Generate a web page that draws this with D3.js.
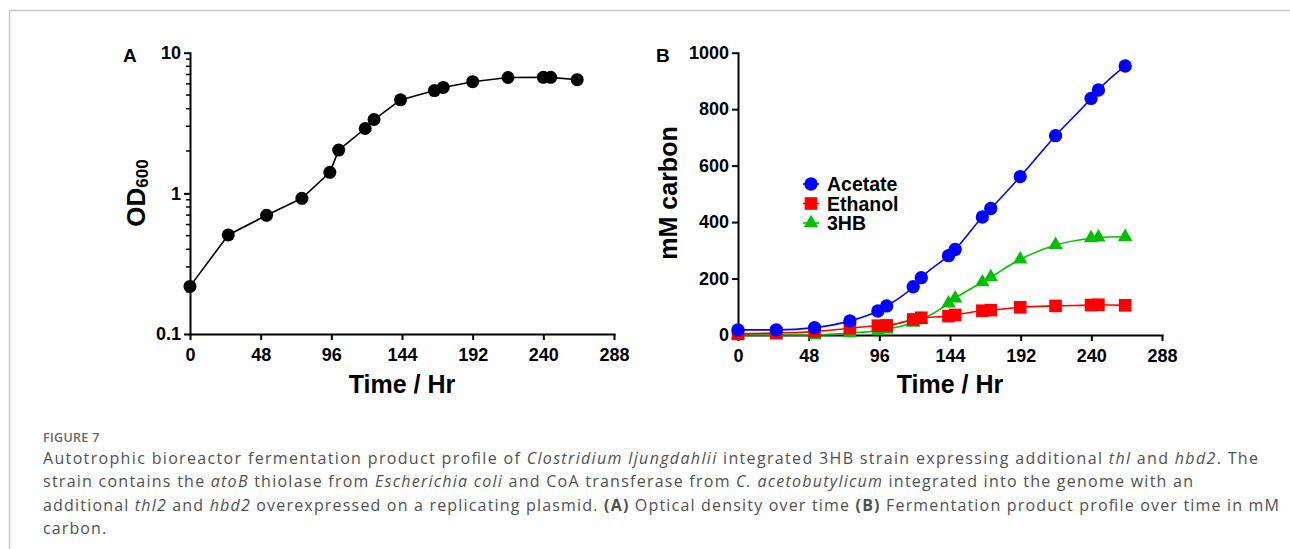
<!DOCTYPE html>
<html><head><meta charset="utf-8">
<script src="https://cdn.jsdelivr.net/npm/d3@7"></script>
<style>
html,body{margin:0;padding:0;background:#fff;}
svg{display:block;}
.ax text{font-family:"Liberation Sans",Arial,sans-serif;font-weight:bold;font-size:18px;fill:#000;}
.ax path,.ax line{stroke:#000;stroke-width:2px;}
.ttl{font-family:"Liberation Sans",Arial,sans-serif;font-weight:bold;fill:#000;}
.cap{font-family:"Open Sans","Noto Sans",sans-serif;font-size:16px;fill:#505050;}
</style></head>
<body><svg id="c" width="1290" height="549"></svg>
<script>
// ---- data ----
const xTicks = [0, 48, 96, 144, 192, 240, 288];
const yTicksA = [0.1, 1, 10];
const yTickLabelsA = ["0.1", "1", "10"];
const yTicksB = [0, 200, 400, 600, 800, 1000];

const timesA = [0, 26, 52, 76, 95, 101, 119, 125, 143, 166, 172, 192, 216, 240, 245, 263];
const od600  = [0.218, 0.506, 0.698, 0.922, 1.41, 2.03, 2.89, 3.35, 4.62, 5.38, 5.66, 6.22, 6.66, 6.68, 6.68, 6.43];

const timesB  = [0, 26, 52, 76, 95, 101, 119, 124.5, 143, 147.5, 166, 171.7, 191.7, 215.7, 239.8, 244.8, 263];
const acetate = [18, 18, 26, 50, 85, 103, 171, 203, 281, 303, 418, 448, 561, 706, 838, 868, 953];
const ethanol = [4, 7, 12, 24, 33, 34, 55, 61, 67, 71, 86, 88, 98, 103, 106, 107, 105];
const hb3     = [0, 0, 0, 7, 15, 20, 44, 55, 112, 130, 187, 205, 268, 319, 343, 346, 348];
const seriesNames = ["Acetate", "Ethanol", "3HB"];

// ---- drawing ----
const svg = d3.select("#c");
svg.append("rect").attr("width",1290).attr("height",549).attr("fill","#fff");
svg.append("path").attr("d","M9.5,549V10.5H1290").attr("fill","none").attr("stroke","#c8c8c8").attr("stroke-width",1.5);

// Panel A
const xA = d3.scaleLinear().domain([0,288]).range([190,614]);
const yA = d3.scaleLog().domain([0.1,10]).range([334,52.7]);
const gA = svg.append("g");
const minorA = [];
[0.1,1].forEach(b=>{for(let k=2;k<=9;k++) minorA.push(b*k);});
gA.append("g").selectAll("line").data(minorA).join("line")
  .attr("x1",190).attr("x2",186).attr("y1",d=>yA(d)).attr("y2",d=>yA(d))
  .attr("stroke","#000").attr("stroke-width",1.5);
gA.append("g").attr("class","ax").attr("transform","translate(0,334)")
  .call(d3.axisBottom(xA).tickValues(xTicks).tickSize(6).tickSizeOuter(0).tickPadding(8))
  .call(g=>g.select(".domain").attr("stroke-linecap","square"));
gA.append("g").attr("class","ax").attr("transform","translate(190,0)")
  .call(d3.axisLeft(yA).tickValues(yTicksA).tickFormat((d,i)=>yTickLabelsA[i]).tickSize(6).tickSizeOuter(0).tickPadding(3))
  .call(g=>g.select(".domain").attr("stroke-linecap","square"));
const ptsA = timesA.map((t,i)=>[t,od600[i]]);
gA.append("path").datum(ptsA).attr("fill","none").attr("stroke","#000").attr("stroke-width",1.6)
  .attr("d",d3.line().x(d=>xA(d[0])).y(d=>yA(d[1])));
gA.append("g").selectAll("circle").data(ptsA).join("circle")
  .attr("cx",d=>xA(d[0])).attr("cy",d=>yA(d[1])).attr("r",6.5).attr("fill","#000");
gA.append("text").attr("class","ttl").attr("x",123).attr("y",62).attr("font-size",19).text("A");
gA.append("text").attr("class","ttl").attr("x",402).attr("y",393).attr("text-anchor","middle").attr("font-size",25).text("Time / Hr");
const odT = gA.append("text").attr("class","ttl").attr("transform","translate(145,193) rotate(-90)")
  .attr("text-anchor","middle").attr("font-size",26);
odT.append("tspan").text("OD");
odT.append("tspan").attr("font-size",17).attr("dy",3).text("600");

// Panel B
const xB = d3.scaleLinear().domain([0,288]).range([738,1162]);
const yB = d3.scaleLinear().domain([0,1000]).range([335,52.7]);
const gB = svg.append("g");
gB.append("g").attr("class","ax").attr("transform","translate(0,335)")
  .call(d3.axisBottom(xB).tickValues(xTicks).tickSize(6).tickSizeOuter(0).tickPadding(8))
  .call(g=>g.select(".domain").attr("stroke-linecap","square"));
gB.append("g").attr("class","ax").attr("transform","translate(738,0)")
  .call(d3.axisLeft(yB).tickValues(yTicksB).tickFormat(d3.format("d")).tickSize(6).tickSizeOuter(0).tickPadding(3))
  .call(g=>g.select(".domain").attr("stroke-linecap","square"));
gB.append("text").attr("class","ttl").attr("x",656).attr("y",62).attr("font-size",19).text("B");
gB.append("text").attr("class","ttl").attr("x",950).attr("y",393).attr("text-anchor","middle").attr("font-size",25).text("Time / Hr");
gB.append("text").attr("class","ttl").attr("transform","translate(677,193) rotate(-90)")
  .attr("text-anchor","middle").attr("font-size",25).text("mM carbon");

const series = [
  {name:seriesNames[2], vals:hb3, color:"#00c000", sym:d3.symbolTriangle, size:90},
  {name:seriesNames[1], vals:ethanol, color:"#ff0000", sym:d3.symbolSquare, size:160},
  {name:seriesNames[0], vals:acetate, color:"#0000ff", sym:d3.symbolCircle, size:140}
];
const lineB = d3.line().curve(d3.curveMonotoneX).x(d=>xB(d[0])).y(d=>yB(d[1]));
series.forEach(s=>{
  const pts = timesB.map((t,i)=>[t,s.vals[i]]);
  gB.append("path").datum(pts).attr("fill","none").attr("stroke",s.color).attr("stroke-width",1.6).attr("d",lineB);
  gB.append("g").selectAll("path").data(pts).join("path")
    .attr("transform",d=>`translate(${xB(d[0])},${yB(d[1])})`)
    .attr("d",d3.symbol(s.sym,s.size)()).attr("fill",s.color);
});
// legend
const leg = gB.append("g");
const legOrder = [series[2],series[1],series[0]];
legOrder.forEach((s,i)=>{
  const y = 184 + i*19.5;
  leg.append("line").attr("x1",803).attr("x2",819).attr("y1",y).attr("y2",y).attr("stroke",s.color).attr("stroke-width",1.6);
  leg.append("path").attr("transform",`translate(811,${y})`).attr("d",d3.symbol(s.sym,s.size)()).attr("fill",s.color);
  leg.append("text").attr("class","ttl").attr("x",827).attr("y",y+7).attr("font-size",19.5).text(s.name);
});

// caption
svg.append("text").attr("x",43).attr("y",441.7).attr("font-family","'Open Sans','Noto Sans',sans-serif")
  .attr("font-size",12.5).attr("font-weight",600).attr("fill","#666").attr("letter-spacing",0.3).text("FIGURE 7");
const capLines = [
  [["Autotrophic bioreactor fermentation product profile of ",""],["Clostridium ljungdahlii","i"],[" integrated 3HB strain expressing additional ",""],["thl","i"],[" and ",""],["hbd2","i"],[". The",""]],
  [["strain contains the ",""],["atoB","i"],[" thiolase from ",""],["Escherichia coli","i"],[" and CoA transferase from ",""],["C. acetobutylicum","i"],[" integrated into the genome with an",""]],
  [["additional ",""],["thl2","i"],[" and ",""],["hbd2","i"],[" overexpressed on a replicating plasmid. ",""],["(A)","b"],[" Optical density over time ",""],["(B)","b"],[" Fermentation product profile over time in mM",""]],
  [["carbon.",""]]
];
const capWidths = [1215, 1150, 1236, null];
capLines.forEach((ln,i)=>{
  const t = svg.append("text").attr("class","cap").attr("x",43).attr("y",464+i*23.3);
  ln.forEach(([s,st])=>{
    const ts = t.append("tspan").text(s);
    if(st==="i") ts.attr("font-style","italic");
    if(st==="b") ts.attr("font-weight",700);
  });
  if(capWidths[i]) t.attr("textLength",capWidths[i]).attr("lengthAdjust","spacing");
  else t.attr("letter-spacing",1.1);
});
</script></body></html>
